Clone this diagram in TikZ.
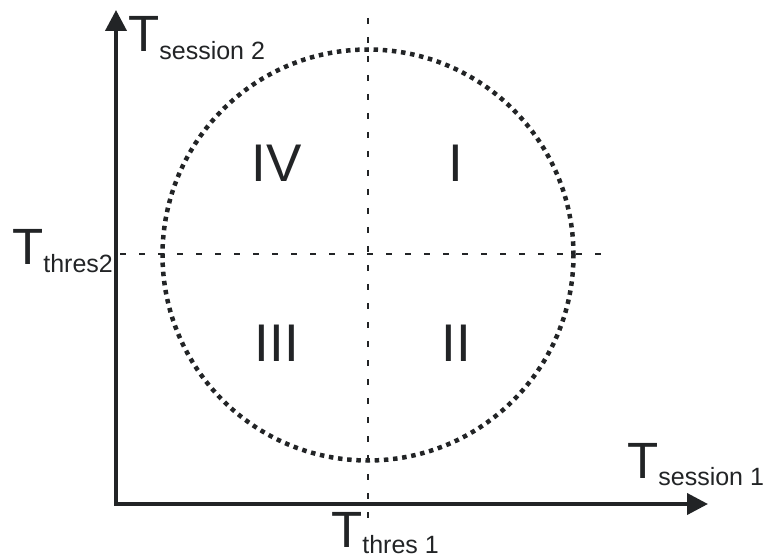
\documentclass[tikz,border=0pt]{standalone}
\usepackage{fontspec}
\setmainfont{Liberation Sans}
\usetikzlibrary{arrows.meta}
\definecolor{ink}{HTML}{222426}
\newcommand{\bigT}{\fontsize{51}{51}\selectfont T}
\newcommand{\subtxt}[2]{\raisebox{-#1pt}{\fontsize{25}{25}\selectfont #2}}
\tikzset{
  axisline/.style={line width=4pt, draw=ink, -{Triangle[length=21pt,width=21pt]}},
  guideline/.style={line width=2.7pt, draw=ink, dash pattern=on 6pt off 13pt},
  dotcircle/.style={circle, draw=ink, line width=4.5pt, dash pattern=on 4.5pt off 4.7pt, minimum size=411pt, inner sep=0pt},
  lbl/.style={inner sep=0pt, anchor=base west, text=ink},
  roman/.style={inner sep=0pt, text=ink, font=\fontsize{53}{53}\selectfont}
}
\begin{document}
\begin{tikzpicture}[x=1pt,y=-1pt]
\useasboundingbox (0,0) rectangle (766,556);
\coordinate (o) at (116,504);
\coordinate (ytip) at (116,10);
\coordinate (xtip) at (708,504);
\coordinate (vt) at (368,18);
\coordinate (vb) at (368,525);
\coordinate (hl) at (120,254);
\coordinate (hr) at (607,254);
\node[dotcircle] (c) at (368,255) {};
\draw[guideline] (vt) -- (vb);
\draw[guideline] (hl) -- (hr);
\draw[axisline, line cap=rect] (o) -- (ytip);
\draw[axisline] (o) -- (xtip);
\node[lbl] (ts2) at (128,52) {\bigT\subtxt{8}{session 2}};
\node[lbl] (ts1) at (627,478) {\bigT\subtxt{7}{session 1}};
\node[lbl] (tt2) at (12,265) {\bigT\subtxt{8}{thres2}};
\node[lbl] (tt1) at (331,547) {\bigT\subtxt{6}{thres 1}};
\node[roman] (q4) at (277,163) {IV};
\node[roman] (q1) at (456,163) {I};
\node[roman] (q3) at (277,343) {III};
\node[roman] (q2) at (456,343) {II};
\end{tikzpicture}
\end{document}
